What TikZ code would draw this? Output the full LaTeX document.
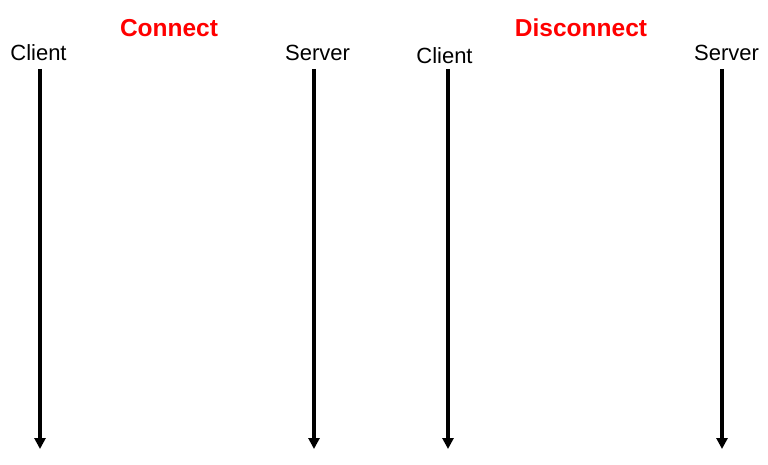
\documentclass[tikz,border=0pt]{standalone}
\usepackage{fontspec}
\setmainfont{Liberation Sans}
\usetikzlibrary{arrows.meta}
\begin{document}
\begin{tikzpicture}[x=1pt,y=-1pt,
  lbl/.style={anchor=base,inner sep=0pt,font=\fontsize{22}{25}\selectfont},
  ttl/.style={anchor=base,inner sep=0pt,text=red,font=\fontsize{24.5}{28}\selectfont\bfseries},
  life/.style={line width=3.8pt,-{Triangle[length=11pt,width=11pt]}}]
\useasboundingbox (0,0) rectangle (768,465);
\node[ttl] (t1) at (169,36.7) {Connect};
\node[ttl] (t2) at (581,36.7) {Disconnect};
\node[lbl] (c1) at (38.5,60.7) {Client};
\node[lbl] (s1) at (317.5,60.7) {Server};
\node[lbl] (c2) at (444.5,63.3) {Client};
\node[lbl] (s2) at (726.5,60.7) {Server};
\coordinate (c1a) at (40,69);
\coordinate (c1b) at (40,449);
\coordinate (s1a) at (314,69);
\coordinate (s1b) at (314,449);
\coordinate (c2a) at (448,69);
\coordinate (c2b) at (448,449);
\coordinate (s2a) at (722,69);
\coordinate (s2b) at (722,449);
\draw[life] (c1a) -- (c1b);
\draw[life] (s1a) -- (s1b);
\draw[life] (c2a) -- (c2b);
\draw[life] (s2a) -- (s2b);
\end{tikzpicture}
\end{document}
